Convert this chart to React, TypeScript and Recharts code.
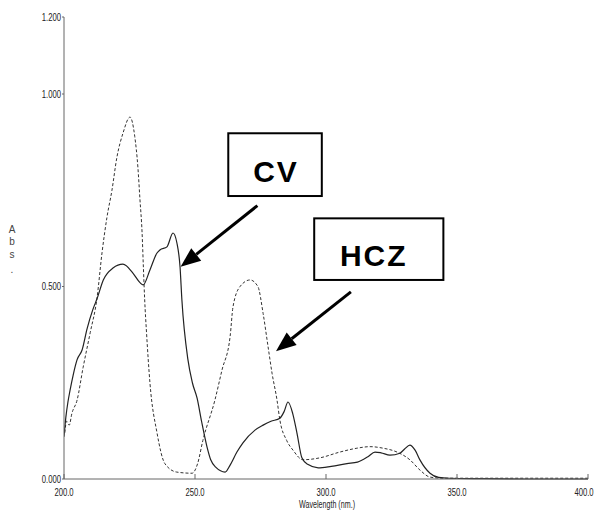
import {
    Line,
    LineChart,
    ReferenceArea,
    ReferenceLine,
    XAxis,
    YAxis,
} from "recharts";

// CV spectrum (solid)
const cvWavelengths = [
    200, 200.7, 201.5, 202.3, 203.5, 205, 206.9, 208.8, 211, 212.6, 215, 218.7,
    222.5, 226.3, 229, 230.2, 232.8, 235.5, 236.6, 239.3, 241.6, 243.1, 244.3,
    245, 247.3, 249, 250.8, 252.5, 254.6, 256, 258, 261.5, 263.4, 266, 268.3,
    272.9, 276, 279, 282.4, 284, 285.5, 287.3, 288.9, 290.8, 293, 297, 302, 308,
    312, 316, 318.7, 321, 324.4, 328.2, 330, 332, 334, 335.9, 339.7, 343, 347,
    360, 380, 400,
];
const cvValues = [
    0.11, 0.16, 0.2, 0.23, 0.27, 0.31, 0.335, 0.39, 0.44, 0.468, 0.517, 0.548,
    0.558, 0.535, 0.51, 0.504, 0.543, 0.587, 0.595, 0.603, 0.639, 0.613, 0.55,
    0.465, 0.31, 0.25, 0.21, 0.15, 0.083, 0.05, 0.03, 0.018, 0.036, 0.07, 0.094,
    0.127, 0.14, 0.15, 0.158, 0.175, 0.2, 0.17, 0.12, 0.055, 0.038, 0.029, 0.033,
    0.04, 0.044, 0.058, 0.07, 0.068, 0.062, 0.067, 0.078, 0.088, 0.075, 0.049,
    0.015, 0.004, 0.002, 0.001, 0, 0,
];

// HCZ spectrum (dashed)
const hczWavelengths = [
    200.3, 201, 202, 203, 205, 207.3, 210, 212.6, 214.5, 216.4, 218.3, 220.2,
    222.5, 225.2, 227, 228.2, 229, 229.8, 230.3, 230.8, 231.5, 232.8, 235.5,
    238.5, 243, 248.9, 251, 253, 257.6, 260.3, 263.4, 264.5, 267.2, 271, 274,
    276, 277.9, 279.4, 281.3, 282.4, 285, 287.4, 291.2, 297.7, 305.3, 311.8,
    316.8, 321.8, 327.1, 332, 335.9, 339.7, 345, 400,
];
const hczValues = [
    0.12, 0.15, 0.14, 0.17, 0.205, 0.29, 0.38, 0.47, 0.587, 0.68, 0.75, 0.836,
    0.898, 0.94, 0.89, 0.81, 0.725, 0.64, 0.55, 0.465, 0.38, 0.25, 0.12, 0.04,
    0.018, 0.015, 0.04, 0.1, 0.205, 0.283, 0.37, 0.447, 0.5, 0.517, 0.5, 0.43,
    0.343, 0.275, 0.205, 0.153, 0.1, 0.075, 0.05, 0.055, 0.07, 0.08, 0.084, 0.08,
    0.07, 0.05, 0.023, 0.005, 0.002, 0.002,
];

const xTicks = [200, 250, 300, 350, 400];
const yTicks = [0, 0.5, 1.0, 1.2];

const cvData = cvWavelengths.map((w, i) => ({ wl: w, cv: cvValues[i] }));
const hczData = hczWavelengths.map((w, i) => ({ wl: w, hcz: hczValues[i] }));

const tickFont = "'Liberation Sans', Arial, sans-serif";
const axisColor = "#666";
const squeeze = 0.7; // the instrument font is a narrow one

// annotation boxes and arrows (data coordinates)
const cvBox = { x1: 262.7, x2: 298.4, y1: 0.735, y2: 0.898, text: "CV", dx: 0 };
const hczBox = { x1: 295.5, x2: 344.8, y1: 0.517, y2: 0.677, text: "HCZ", dx: -6 };
const cvArrow = [{ x: 273.8, y: 0.71 }, { x: 244.5, y: 0.551 }];
const hczArrow = [{ x: 309.5, y: 0.486 }, { x: 280.9, y: 0.332 }];

const boxShape = (text: string, dx: number) => (p: any) => {
    return (
        <g>
            <rect x={p.x} y={p.y} width={p.width} height={p.height} fill="#fff" stroke="#000" strokeWidth={2} />
            <text
                x={p.x + p.width / 2 + dx + 1}
                y={p.y + p.height / 2 + 17}
                textAnchor="middle"
                fontFamily="'Liberation Sans', Arial, sans-serif"
                fontWeight="bold"
                fontSize={30}
                letterSpacing={2}
                fill="#000"
            >
                {text}
            </text>
        </g>
    );
};

const ArrowShape = (p: any) => {
    const { x1, y1, x2, y2 } = p;
    const ang = Math.atan2(y2 - y1, x2 - x1);
    const len = 20;
    const half = 8;
    const bx = x2 - len * Math.cos(ang);
    const by = y2 - len * Math.sin(ang);
    const nx = -Math.sin(ang);
    const ny = Math.cos(ang);
    return (
        <g>
            <line x1={x1} y1={y1} x2={bx} y2={by} stroke="#000" strokeWidth={3} />
            <polygon
                points={`${x2},${y2} ${bx + nx * half},${by + ny * half} ${bx - nx * half},${by - ny * half}`}
                fill="#000"
            />
        </g>
    );
};

const XTick = (p: any) => (
    <text
        transform={`translate(${p.x},${p.y}) scale(${squeeze},1)`}
        textAnchor="middle"
        dy="0.71em"
        fontFamily={tickFont}
        fontSize={11}
        fill="#222"
    >
        {p.payload.value.toFixed(1)}
    </text>
);

const YTick = (p: any) => (
    <text
        transform={`translate(${p.x},${p.y}) scale(${squeeze},1)`}
        textAnchor="end"
        dy="0.36em"
        fontFamily={tickFont}
        fontSize={11}
        fill="#222"
    >
        {p.payload.value.toFixed(3)}
    </text>
);

const WavelengthLabel = (p: any) => {
    const vb = p.viewBox;
    return (
        <text
            transform={`translate(${vb.x + vb.width / 2 + 1},${vb.y + 29}) scale(0.68,1)`}
            textAnchor="middle"
            fontFamily={tickFont}
            fontSize={10.5}
            fill="#222"
        >
            Wavelength (nm.)
        </text>
    );
};

const AbsLabel = () => (
    <text x={12} y={233} fontFamily={tickFont} fontSize={10} fill="#444" textAnchor="middle">
        <tspan x={12} dy={0}>A</tspan>
        <tspan x={12} dy={12}>b</tspan>
        <tspan x={12} dy={13}>s</tspan>
        <tspan x={12} dy={15}>.</tspan>
    </text>
);

const App = () => {
    return (
        <div style={{ position: "absolute", left: 0, top: 0, background: "#fff" }}>
            <LineChart width={596} height={511} margin={{ top: 17, right: 8, bottom: 2, left: 0 }}>
                <XAxis
                    xAxisId="b"
                    type="number"
                    dataKey="wl"
                    domain={[200, 400]}
                    ticks={xTicks}
                    allowDataOverflow
                    height={30}
                    tickSize={-5}
                    tickMargin={14}
                    tick={<XTick />}
                    stroke={axisColor}
                    label={<WavelengthLabel />}
                />
                <XAxis
                    xAxisId="t"
                    orientation="top"
                    type="number"
                    dataKey="wl"
                    domain={[200, 400]}
                    ticks={xTicks}
                    height={0}
                    tickSize={-5}
                    tickFormatter={() => ""}
                    stroke={axisColor}
                />
                <YAxis
                    yAxisId="l"
                    type="number"
                    domain={[0, 1.2]}
                    ticks={yTicks}
                    width={64}
                    tickSize={2}
                    tickMargin={1}
                    tick={<YTick />}
                    stroke={axisColor}
                    label={<AbsLabel />}
                />
                <YAxis
                    yAxisId="r"
                    orientation="right"
                    type="number"
                    domain={[0, 1.2]}
                    width={0}
                    tick={false}
                    tickLine={false}
                    stroke={axisColor}
                />

                <Line
                    xAxisId="b"
                    yAxisId="l"
                    data={hczData}
                    dataKey="hcz"
                    type="monotone"
                    stroke="#333"
                    strokeWidth={1}
                    strokeDasharray="3 2"
                    dot={false}
                    isAnimationActive={false}
                />
                <Line
                    xAxisId="b"
                    yAxisId="l"
                    data={cvData}
                    dataKey="cv"
                    type="monotone"
                    stroke="#222"
                    strokeWidth={1.2}
                    dot={false}
                    isAnimationActive={false}
                />

                <ReferenceArea
                    xAxisId="b"
                    yAxisId="l"
                    x1={cvBox.x1}
                    x2={cvBox.x2}
                    y1={cvBox.y1}
                    y2={cvBox.y2}
                    shape={boxShape(cvBox.text, cvBox.dx)}
                />
                <ReferenceArea
                    xAxisId="b"
                    yAxisId="l"
                    x1={hczBox.x1}
                    x2={hczBox.x2}
                    y1={hczBox.y1}
                    y2={hczBox.y2}
                    shape={boxShape(hczBox.text, hczBox.dx)}
                />
                <ReferenceLine xAxisId="b" yAxisId="l" segment={cvArrow} shape={ArrowShape} />
                <ReferenceLine xAxisId="b" yAxisId="l" segment={hczArrow} shape={ArrowShape} />
            </LineChart>
        </div>
    );
};

export default App;
